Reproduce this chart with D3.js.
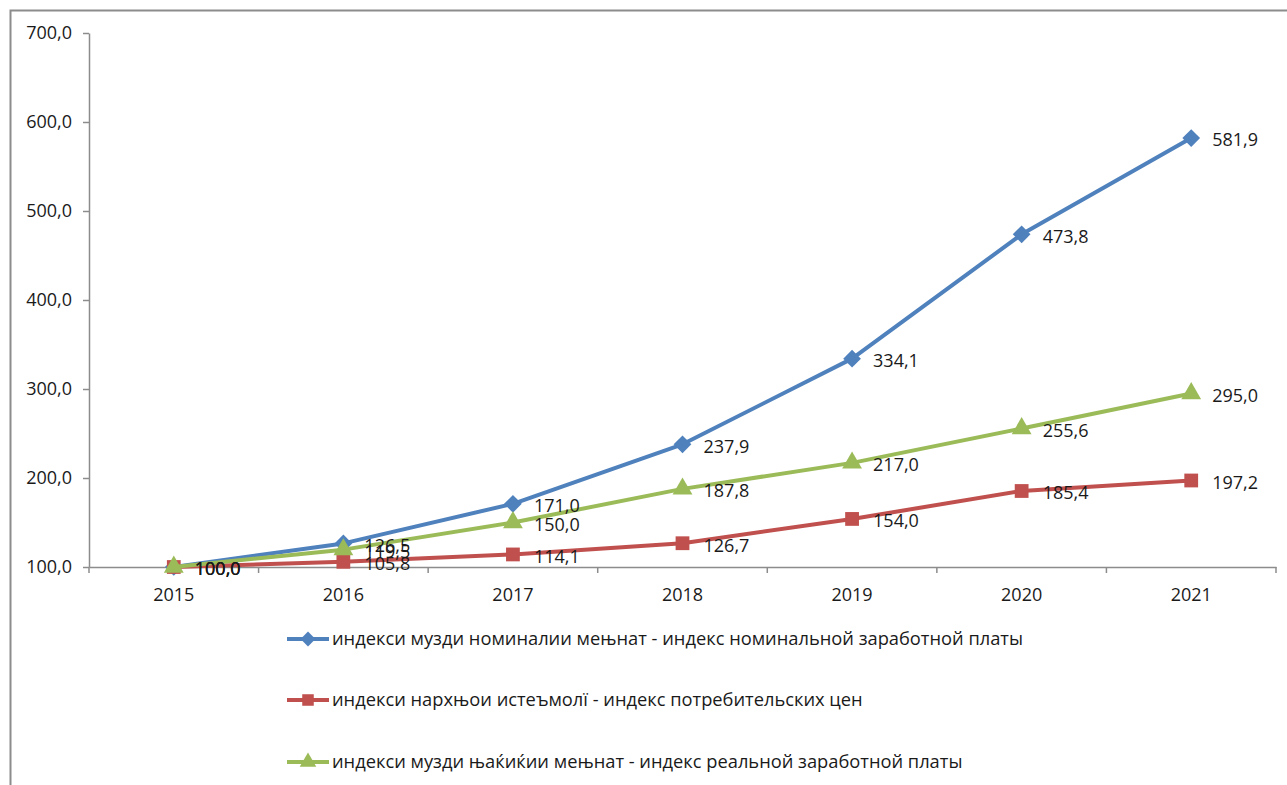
<!DOCTYPE html>
<html>
<head>
<meta charset="utf-8">
<script src="https://cdn.jsdelivr.net/npm/d3@7"></script>
<style>
  body { margin: 0; background: #fff; }
  text { font-family: "Open Sans", sans-serif; fill: #1a1a1a; }
</style>
</head>
<body>
<div id="chart"></div>
<script>
const years = ["2015", "2016", "2017", "2018", "2019", "2020", "2021"];
const nominalWage = [100.0, 126.5, 171.0, 237.9, 334.1, 473.8, 581.9];
const consumerPrices = [100.0, 105.8, 114.1, 126.7, 154.0, 185.4, 197.2];
const realWage = [100.0, 119.5, 150.0, 187.8, 217.0, 255.6, 295.0];
const yTicks = [100, 200, 300, 400, 500, 600, 700];
const seriesNames = [
  "индекси музди номиналии мењнат - индекс номинальной заработной платы",
  "индекси нархњои истеъмолї - индекс потребительских цен",
  "индекси музди њаќиќии мењнат - индекс реальной заработной платы"
];

(() => {
  const W = 1287, H = 785;
  const left = 89, right = 1276, top = 33, bottom = 567;

  const svg = d3.select("#chart").append("svg")
    .attr("width", W).attr("height", H);

  // chart frame
  svg.append("rect")
    .attr("x", 10.5).attr("y", 10.5)
    .attr("width", W + 20).attr("height", H + 20)
    .attr("fill", "none")
    .attr("stroke", "#8c8c8c")
    .attr("stroke-width", 2);

  const fmt = v => d3.format(".1f")(v).replace(".", ",");

  const x = d3.scaleBand().domain(years).range([left, right]).padding(0);
  const y = d3.scaleLinear().domain([100, 700]).range([bottom, top]);
  const cx = d => x(d) + x.bandwidth() / 2;

  // y axis
  const yAxis = svg.append("g")
    .attr("transform", `translate(${left},0)`)
    .call(d3.axisLeft(y).tickValues(yTicks).tickFormat(fmt).tickSize(6).tickPadding(11).tickSizeOuter(0));
  yAxis.select(".domain").attr("stroke", "#8c8c8c").attr("stroke-width", 1.5);
  yAxis.selectAll(".tick line").attr("stroke", "#8c8c8c").attr("stroke-width", 1.5);
  yAxis.selectAll(".tick text").style("font-size", "18px").style("font-family", "Open Sans").attr("fill", "#1a1a1a");

  // x axis (labels centred, ticks on category boundaries)
  const xAxis = svg.append("g")
    .attr("transform", `translate(0,${bottom})`)
    .call(d3.axisBottom(x).tickSize(0).tickPadding(21).tickSizeOuter(0));
  xAxis.select(".domain").attr("stroke", "#8c8c8c").attr("stroke-width", 1.5);
  xAxis.selectAll(".tick text").style("font-size", "18px").style("font-family", "Open Sans").attr("fill", "#1a1a1a");
  xAxis.selectAll(".bound")
    .data(years.map(d => x(d)).concat([right]))
    .enter().append("line")
    .attr("x1", d => d).attr("x2", d => d)
    .attr("y1", 0).attr("y2", 6)
    .attr("stroke", "#8c8c8c").attr("stroke-width", 1.5);

  const series = [
    { name: seriesNames[0], values: nominalWage, color: "#4F81BD", marker: d3.symbolDiamond2, size: 200 },
    { name: seriesNames[1], values: consumerPrices, color: "#C0504D", marker: d3.symbolSquare, size: 190 },
    { name: seriesNames[2], values: realWage, color: "#9BBB59", marker: d3.symbolTriangle, size: 170 }
  ];

  const line = d3.line().x((d, i) => cx(years[i])).y(d => y(d));

  series.forEach(s => {
    const g = svg.append("g");
    g.append("path")
      .datum(s.values)
      .attr("d", line)
      .attr("fill", "none")
      .attr("stroke", s.color)
      .attr("stroke-width", 4)
      .attr("stroke-linejoin", "round");
    g.selectAll("path.m")
      .data(s.values)
      .enter().append("path")
      .attr("class", "m")
      .attr("transform", (d, i) => `translate(${cx(years[i])},${y(d)})`)
      .attr("d", d3.symbol().type(s.marker).size(s.size))
      .attr("fill", s.color);
  });

  // value labels (they overlap at 2016 in the original as well)
  series.forEach(s => {
    svg.append("g").selectAll("text")
      .data(s.values)
      .enter().append("text")
      .attr("x", (d, i) => cx(years[i]) + 21)
      .attr("y", d => y(d) + 2)
      .attr("dy", "0.35em")
      .style("font-size", "18px")
      .text(d => fmt(d));
  });

  // legend
  const legend = svg.append("g").attr("transform", "translate(287,0)");
  const rowsY = [639, 700, 762];
  series.forEach((s, i) => {
    const row = legend.append("g").attr("transform", `translate(0,${rowsY[i]})`);
    row.append("line")
      .attr("x1", 0).attr("x2", 42)
      .attr("stroke", s.color).attr("stroke-width", 4);
    row.append("path")
      .attr("transform", "translate(21,0)")
      .attr("d", d3.symbol().type(s.marker).size(s.size * 0.7))
      .attr("fill", s.color);
    row.append("text")
      .attr("x", 45)
      .attr("dy", "0.35em")
      .style("font-size", "18.3px")
      .text(s.name);
  });
})();
</script>
</body>
</html>
